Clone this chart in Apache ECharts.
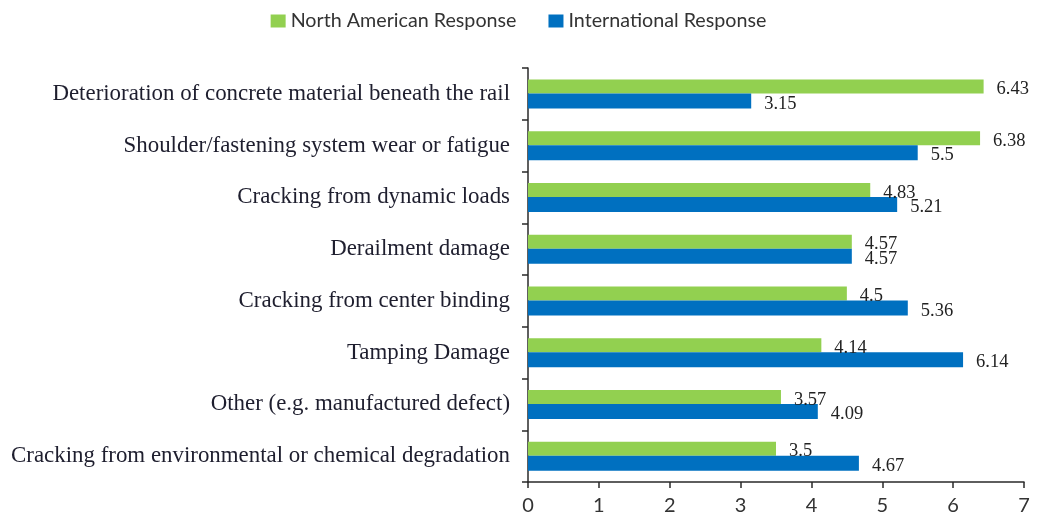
<!DOCTYPE html>
<html>
<head>
<meta charset="utf-8">
<script src="https://cdn.jsdelivr.net/npm/echarts@6/dist/echarts.min.js"></script>
<style>
  html, body { margin: 0; padding: 0; background: #fff; }
  #chart { width: 1037px; height: 520px; }
</style>
</head>
<body>
<div id="chart"></div>
<script>
// Damage causes, listed from top to bottom
const categories = [
  'Deterioration of concrete material beneath the rail',
  'Shoulder/fastening system wear or fatigue',
  'Cracking from dynamic loads',
  'Derailment damage',
  'Cracking from center binding',
  'Tamping Damage',
  'Other (e.g. manufactured defect)',
  'Cracking from environmental or chemical degradation'
];
const northAmerican = [6.43, 6.38, 4.83, 4.57, 4.5, 4.14, 3.57, 3.5];
const international = [3.15, 5.5, 5.21, 4.57, 5.36, 6.14, 4.09, 4.67];
const seriesNames = ['North American Response', 'International Response'];
const xTicks = [0, 1, 2, 3, 4, 5, 6, 7];

const chart = echarts.init(document.getElementById('chart'), null, { renderer: 'canvas' });

const axisColor = '#2a2a2a';
const valueLabel = {
  show: true,
  position: 'right',
  distance: 13,
  offset: [0, 3],
  fontFamily: '"Liberation Serif", serif',
  fontSize: 18.5,
  color: '#222'
};

chart.setOption({
  animation: false,
  legend: {
    top: 6,
    left: 'center',
    itemWidth: 15,
    itemHeight: 13,
    itemGap: 32,
    icon: 'rect',
    textStyle: { fontFamily: 'Lato, sans-serif', fontSize: 19.7, color: '#333' },
    data: seriesNames
  },
  grid: { left: 528, right: 13, top: 68, bottom: 38, containLabel: false },
  xAxis: {
    type: 'value',
    min: xTicks[0],
    max: xTicks[xTicks.length - 1],
    interval: 1,
    splitLine: { show: false },
    axisLine: { show: true, lineStyle: { color: axisColor, width: 1.5 } },
    axisTick: { show: true, length: 6, lineStyle: { color: axisColor, width: 1.5 } },
    axisLabel: { fontFamily: 'Lato, sans-serif', fontSize: 20, color: '#333', margin: 14 }
  },
  yAxis: {
    type: 'category',
    inverse: true,
    data: categories,
    axisLine: { show: true, lineStyle: { color: axisColor, width: 1.5 } },
    axisTick: { show: true, length: 6, lineStyle: { color: axisColor, width: 1.5 } },
    axisLabel: {
      fontFamily: '"Liberation Serif", serif',
      fontSize: 22.9,
      color: '#1e1e2e',
      margin: 18,
      padding: [4, 0, 0, 0]
    }
  },
  series: [
    {
      name: seriesNames[0],
      type: 'bar',
      data: northAmerican,
      barWidth: 14,
      barGap: '0%',
      itemStyle: { color: '#92D050' },
      label: valueLabel
    },
    {
      name: seriesNames[1],
      type: 'bar',
      data: international,
      barWidth: 15,
      barGap: '0%',
      itemStyle: { color: '#0070C0' },
      label: valueLabel
    }
  ]
});
</script>
</body>
</html>
